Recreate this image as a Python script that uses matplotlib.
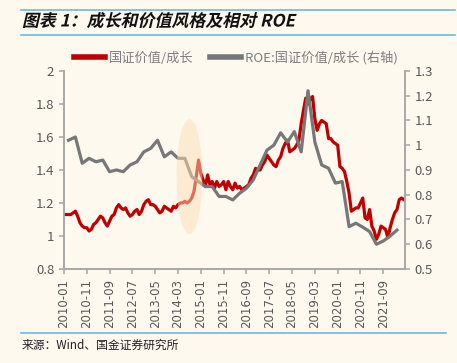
import numpy as np
import pandas as pd
import matplotlib
matplotlib.use('Agg')
import matplotlib.pyplot as plt
from matplotlib.patches import Ellipse
from matplotlib.ticker import FuncFormatter, MultipleLocator
from matplotlib.patheffects import AbstractPathEffect
from matplotlib.transforms import Affine2D

plt.rcParams['font.family'] = ['Noto Sans CJK SC', 'DejaVu Sans']

# monthly, 2010-01 .. 2022-06
months = pd.date_range('2010-01', periods=150, freq='MS').strftime('%Y-%m').tolist()

value_growth = [
    1.13, 1.13, 1.13, 1.13, 1.14, 1.15, 1.12, 1.08, 1.06, 1.05, 1.05, 1.03,
    1.04, 1.07, 1.08, 1.10, 1.12, 1.11, 1.08, 1.06, 1.09, 1.12, 1.13, 1.17,
    1.19, 1.17, 1.16, 1.17, 1.14, 1.12, 1.13, 1.15, 1.16, 1.13, 1.15, 1.19,
    1.21, 1.22, 1.19, 1.19, 1.18, 1.16, 1.14, 1.15, 1.18, 1.17, 1.16, 1.15,
    1.18, 1.17, 1.19, 1.20, 1.20, 1.21, 1.20, 1.21, 1.23, 1.27, 1.36, 1.46,
    1.38, 1.34, 1.30, 1.37, 1.31, 1.33, 1.29, 1.33, 1.30, 1.31, 1.33, 1.28,
    1.33, 1.30, 1.28, 1.32, 1.29, 1.30, 1.28, 1.29, 1.30, 1.31, 1.35, 1.37,
    1.41, 1.40, 1.40, 1.43, 1.45, 1.49, 1.47, 1.45, 1.43, 1.42, 1.46, 1.48,
    1.53, 1.56, 1.58, 1.51, 1.52, 1.53, 1.55, 1.58, 1.68, 1.76, 1.835, 1.80,
    1.83, 1.845, 1.71, 1.64, 1.68, 1.70, 1.69, 1.68, 1.59, 1.59, 1.57, 1.56,
    1.55, 1.42, 1.41, 1.39, 1.33, 1.26, 1.15, 1.16, 1.17, 1.17, 1.20, 1.23,
    1.11, 1.10, 1.16, 1.06, 1.03, 0.98, 1.01, 1.06, 1.05, 1.04, 0.99, 1.05,
    1.10, 1.14, 1.16, 1.22, 1.23, 1.22,
]

# quarterly, 2010-03 .. 2022-03 (right axis)
roe_quarters = pd.date_range('2010-03', periods=49, freq='3MS').strftime('%Y-%m').tolist()
roe_ratio = [
    1.02, 1.033, 0.927, 0.947, 0.933, 0.94, 0.893, 0.90, 0.893, 0.92,
    0.933, 0.973, 0.987, 1.02, 0.953, 0.973, 0.947, 0.947, 0.873, 0.853,
    0.833, 0.833, 0.793, 0.793, 0.779, 0.806, 0.826, 0.86, 0.92, 0.98,
    1.0, 1.05, 1.013, 1.055, 0.973, 1.22, 1.013, 0.92, 0.907, 0.847,
    0.853, 0.671, 0.685, 0.669, 0.651, 0.60, 0.613, 0.633, 0.657,
]

bg = '#FEF9EF'
red = '#C00000'
grey = '#777777'
spine_c = '#A6A6A6'
tick_c = '#595959'
blue = '#6DB8E2'


class Slant(AbstractPathEffect):
    # fake italic for the CJK title (the font has no oblique face)
    def __init__(self, deg=13):
        super().__init__()
        self._skew = Affine2D().skew_deg(deg, 0)

    def draw_path(self, renderer, gc, tpath, affine, rgbFace=None):
        renderer.draw_path(gc, tpath, self._skew + affine, rgbFace)


fig = plt.figure(figsize=(4.57, 3.63), dpi=100, facecolor=bg)
ax = fig.add_axes([0.140, 0.259, 0.7456, 0.5456])
ax.set_facecolor(bg)
ax2 = ax.twinx()

x = np.arange(len(months))
ax.plot(x, value_growth, color=red, lw=2.3, label='国证价值/成长', solid_joinstyle='round')
xq = [months.index(q) for q in roe_quarters]
ax2.plot(xq, roe_ratio, color=grey, lw=2.3, label='ROE:国证价值/成长 (右轴)', solid_joinstyle='round')

# highlight ellipse around the 2014-2015 switch
ax2.add_patch(Ellipse((55, 0.873), 11.3, 0.465, facecolor='#FCDDB5', edgecolor='none',
                      alpha=0.5, zorder=5))

ax.set_xlim(0, 149.4)
ax.set_ylim(0.8, 2.0)
ax2.set_ylim(0.5, 1.3)
ax.yaxis.set_major_locator(MultipleLocator(0.2))
ax2.yaxis.set_major_locator(MultipleLocator(0.1))
fmt = FuncFormatter(lambda v, p: '%g' % round(v, 2))
ax.yaxis.set_major_formatter(fmt)
ax2.yaxis.set_major_formatter(fmt)

ticks = list(range(0, len(months), 10))
ax.set_xticks(ticks)
ax.set_xticklabels([months[i] for i in ticks], rotation=90, fontsize=8.5,
                   color=tick_c, family=['DejaVu Sans'])

for a in (ax, ax2):
    for s in a.spines.values():
        s.set_color(spine_c)
        s.set_linewidth(1.1)
    a.spines['top'].set_visible(False)
    a.tick_params(colors=spine_c, labelcolor=tick_c, length=3.5, width=1.1, labelsize=9.5)
ax.tick_params(axis='x', labelsize=8.5)

h1, l1 = ax.get_legend_handles_labels()
h2, l2 = ax2.get_legend_handles_labels()
leg = fig.legend(h1 + h2, l1 + l2, loc='center', bbox_to_anchor=(0.516, 0.840), ncol=2,
                 frameon=False, fontsize=9.5, handlelength=2.4, handletextpad=0.3,
                 columnspacing=1.2, labelcolor='#7F7F7F')
for ln in leg.get_lines():
    ln.set_linewidth(4)

# header / footer
fig.add_artist(plt.Line2D([0.046, 0.996], [1 - 9.5 / 363] * 2, color=blue, lw=1.2))
fig.add_artist(plt.Line2D([0.046, 0.996], [1 - 34.5 / 363] * 2, color=blue, lw=1.2))
fig.text(0.048, 1 - 21.5 / 363, '图表 1：成长和价值风格及相对 ROE', fontsize=12.2,
         fontweight='bold', va='center', ha='left', color='#111111',
         path_effects=[Slant()])
fig.add_artist(plt.Line2D([0.046, 0.976], [1 - 332.5 / 363] * 2, color=blue, lw=1.2))
fig.text(0.048, 1 - 345 / 363, '来源：Wind、国金证券研究所', fontsize=8.5,
         va='center', ha='left', color='#222222')

fig.savefig('out.png', dpi=100, facecolor=bg)
